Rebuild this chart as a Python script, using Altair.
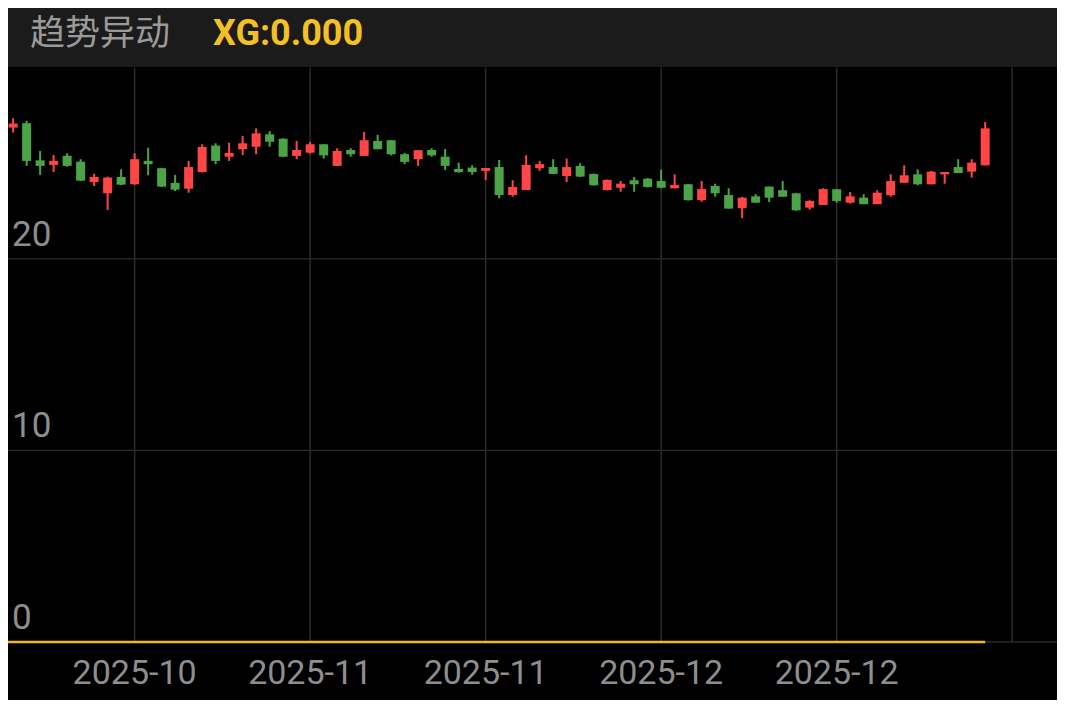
import altair as alt
import pandas as pd

# ---- data ----
open_ = [27.29, 26.86, 27.09, 25.15, 24.91, 25.39, 25.08, 24.02, 23.43, 24.28,
         23.90, 25.12, 24.74, 23.97, 23.67, 24.54, 25.92, 25.34, 25.73, 25.86,
         26.51, 26.28, 25.38, 25.55, 25.99, 24.86, 25.69, 25.38, 26.16, 26.20,
         25.47, 25.21, 25.69, 25.34, 24.70, 24.77, 24.60, 24.80, 23.34, 23.60,
         24.74, 24.80, 24.33, 24.86, 24.44, 23.60, 23.72, 24.11, 24.19, 24.07,
         23.69, 23.90, 23.07, 23.81, 23.34, 22.65, 23.27, 23.78, 23.59, 23.43,
         22.68, 22.82, 23.64, 22.94, 23.20, 22.86, 23.33, 23.98, 24.42, 23.90,
         24.42, 24.80, 24.56, 24.89]
high = [27.36, 27.35, 27.21, 25.64, 25.43, 25.52, 25.21, 24.45, 24.30, 24.68,
        25.52, 25.81, 24.76, 24.39, 25.12, 25.99, 26.04, 26.07, 26.42, 26.82,
        26.68, 26.30, 26.16, 26.11, 25.99, 25.78, 25.78, 26.63, 26.48, 26.20,
        25.54, 25.68, 25.78, 25.74, 25.03, 24.89, 24.75, 25.17, 24.11, 25.41,
        25.12, 25.21, 25.24, 25.00, 24.46, 24.15, 24.07, 24.28, 24.23, 24.66,
        24.42, 23.92, 24.07, 23.93, 23.69, 23.24, 23.38, 23.78, 24.07, 23.45,
        23.07, 23.69, 23.65, 23.50, 23.38, 23.59, 24.42, 24.89, 24.68, 24.60,
        24.54, 25.21, 25.21, 27.15]
low = [26.84, 26.60, 24.86, 24.39, 24.54, 24.82, 24.07, 23.81, 22.56, 23.86,
       23.88, 24.37, 23.76, 23.55, 23.46, 24.51, 24.95, 25.12, 25.43, 25.47,
       25.86, 25.32, 25.21, 25.50, 25.24, 24.86, 25.34, 25.38, 25.73, 25.41,
       24.95, 24.86, 25.34, 24.65, 24.51, 24.40, 24.13, 23.17, 23.25, 23.60,
       24.60, 24.44, 24.02, 24.28, 23.83, 23.58, 23.51, 23.51, 23.73, 23.69,
       23.69, 23.05, 22.99, 23.25, 22.63, 22.13, 22.94, 22.98, 23.25, 22.52,
       22.57, 22.82, 22.94, 22.89, 22.86, 22.86, 23.25, 23.98, 23.85, 23.90,
       23.93, 24.49, 24.25, 24.89]
close = [26.89, 27.07, 25.12, 24.86, 25.12, 24.86, 24.09, 24.28, 24.25, 23.88,
         25.21, 24.95, 23.78, 23.62, 24.80, 25.85, 25.12, 25.54, 26.04, 26.56,
         26.12, 25.34, 25.69, 25.99, 25.41, 25.64, 25.47, 26.20, 25.73, 25.47,
         25.07, 25.68, 25.41, 24.86, 24.53, 24.54, 24.75, 23.34, 23.76, 24.91,
         24.95, 24.44, 24.80, 24.30, 23.85, 24.13, 23.93, 23.90, 23.76, 23.72,
         23.86, 23.07, 23.65, 23.43, 22.63, 23.20, 22.94, 23.20, 23.25, 22.54,
         23.03, 23.65, 23.03, 23.27, 22.86, 23.46, 24.07, 24.37, 23.90, 24.56,
         24.54, 24.49, 25.03, 26.82]
xg = [0.0] * 74

x_tick_idx = [10, 23, 36, 49, 62]
x_tick_labels = ["2025-10", "2025-11", "2025-11", "2025-12", "2025-12"]
grid_idx = [10, 23, 36, 49, 62, 75]
y_ticks = [0, 10, 20]
y_grid = [10, 20]
y_top = 30

title_text = "趋势异动"
xg_text = "XG:0.000"

# ---- build tables ----
n = len(close)
df = pd.DataFrame({
    "i": list(range(n)),
    "open": open_, "high": high, "low": low, "close": close, "xg": xg,
})
df["dir"] = ["up" if c >= o else "down" for o, c in zip(open_, close)]

W, H = 1049, 692
RED = "#FF4545"
GREEN = "#4CA449"
GRID = "#2B2B2F"
LABEL = "#8E8E8E"

xs = alt.Scale(domain=[0.62, 78.32], nice=False, zero=False, padding=0)
ys = alt.Scale(domain=[-3.03, 33.105], nice=False, zero=False, padding=0)


def X(f):
    return alt.X(f, type="quantitative", scale=xs, axis=None)


def Y(f):
    return alt.Y(f, type="quantitative", scale=ys, axis=None)


dummy = pd.DataFrame({"a": [0]})

header = alt.Chart(dummy).mark_rect(color="#1B1B1B").encode(
    x=alt.value(0), x2=alt.value(W), y=alt.value(0), y2=alt.value(59))

hgrid = alt.Chart(pd.DataFrame({"v": y_grid})).mark_rule(color=GRID, strokeWidth=1.2).encode(
    y=Y("v"), x=alt.value(0), x2=alt.value(W))

vgrid_df = pd.DataFrame({"i": grid_idx, "top": [y_top] * len(grid_idx), "bot": [0] * len(grid_idx)})
vgrid = alt.Chart(vgrid_df).mark_rule(color=GRID, strokeWidth=1.5).encode(
    x=X("i"), y=Y("top"), y2="bot")

axis_line = alt.Chart(pd.DataFrame({"v": [0]})).mark_rule(color=GRID, strokeWidth=1.5).encode(
    y=Y("v"), x=alt.value(0), x2=alt.value(W))

color_enc = alt.Color("dir:N", scale=alt.Scale(domain=["up", "down"], range=[RED, GREEN]), legend=None)

wicks = alt.Chart(df).mark_rule(strokeWidth=2).encode(
    x=X("i"), y=Y("low"), y2="high", color=color_enc)

bodies = alt.Chart(df).mark_bar(width=9).encode(
    x=X("i"), y=Y("open"), y2="close", color=color_enc)

xg_line = alt.Chart(df).mark_line(color="#F2B51C", strokeWidth=2.5).encode(
    x=X("i"), y=Y("xg"))

ylabels = alt.Chart(pd.DataFrame({"v": y_ticks})).mark_text(
    align="left", baseline="middle", fontSize=35, font="Roboto", color=LABEL, dy=-24
).encode(x=alt.value(4), y=Y("v"), text=alt.Text("v:Q"))

xl_df = pd.DataFrame({"i": x_tick_idx, "t": x_tick_labels, "v": [0] * len(x_tick_idx)})
xlabels = alt.Chart(xl_df).mark_text(
    align="center", baseline="middle", fontSize=34, font="Roboto", color=LABEL, dy=32
).encode(x=X("i"), y=Y("v"), text="t:N")

title = alt.Chart(pd.DataFrame({"t": [title_text]})).mark_text(
    align="left", baseline="middle", fontSize=35, font="Noto Sans CJK SC", color="#9A9A9A"
).encode(x=alt.value(22), y=alt.value(26), text="t:N")

xgt = alt.Chart(pd.DataFrame({"t": [xg_text]})).mark_text(
    align="left", baseline="middle", fontSize=36, font="Roboto", fontWeight="bold", color="#F5C120"
).encode(x=alt.value(205), y=alt.value(26), text="t:N")

chart = alt.layer(
    header, hgrid, vgrid, axis_line, wicks, bodies, xg_line, ylabels, xlabels, title, xgt
).properties(
    width=W, height=H, background="#000000", padding=0,
    autosize=alt.AutoSizeParams(type="none")
).configure_view(stroke=None)

chart.save("out.html", embed_options={"renderer": "svg", "actions": False})
